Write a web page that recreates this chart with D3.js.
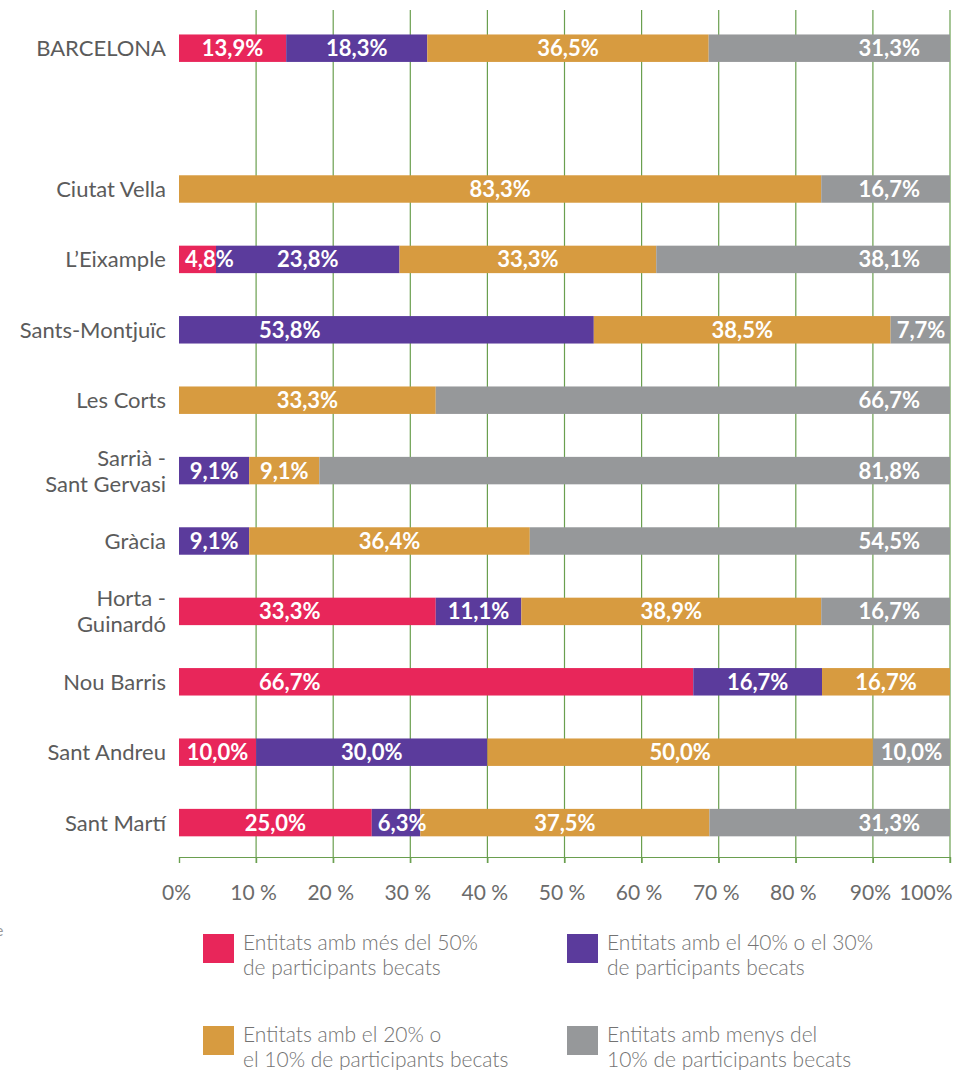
<!DOCTYPE html>
<html>
<head>
<meta charset="utf-8">
<script src="https://cdn.jsdelivr.net/npm/d3@7"></script>
<style>
  body { margin: 0; background: #fff; }
  svg { display: block; font-family: Lato, "Open Sans", sans-serif; }
</style>
</head>
<body>
<svg id="chart" width="957" height="1070"></svg>
<script>
// districtes (BARCELONA primer, després un buit)
const categories = ["BARCELONA", "Ciutat Vella", "L’Eixample", "Sants-Montjuïc", "Les Corts",
  "Sarrià -\nSant Gervasi", "Gràcia", "Horta -\nGuinardó", "Nou Barris", "Sant Andreu", "Sant Martí"];

// % d'entitats segons participants becats
const mes50     = [13.9, 0, 4.8, 0, 0, 0, 0, 33.3, 66.7, 10.0, 25.0];
const el40o30   = [18.3, 0, 23.8, 53.8, 0, 9.1, 9.1, 11.1, 16.7, 30.0, 6.3];
const el20o10   = [36.5, 83.3, 33.3, 38.5, 33.3, 9.1, 36.4, 38.9, 16.7, 50.0, 37.5];
const menys10   = [31.3, 16.7, 38.1, 7.7, 66.7, 81.8, 54.5, 16.7, 0, 10.0, 31.3];

const xTicks = [0, 10, 20, 30, 40, 50, 60, 70, 80, 90, 100];
const xTickLabels = ["0%", "10 %", "20 %", "30 %", "40 %", "50 %", "60 %", "70 %", "80 %", "90%", "100%"];

const seriesKeys = ["mes50", "el40o30", "el20o10", "menys10"];
const legendLabels = [
  ["Entitats amb més del 50%", "de participants becats"],
  ["Entitats amb el 40% o el 30%", "de participants becats"],
  ["Entitats amb el 20% o", "el 10% de participants becats"],
  ["Entitats amb menys del", "10% de participants becats"]
];
const colors = ["#e8265a", "#5b3b9c", "#d79b40", "#96989a"];

const svg = d3.select("#chart");

// taula per a d3.stack
const table = categories.map((c, i) => ({
  cat: c, mes50: mes50[i], el40o30: el40o30[i], el20o10: el20o10[i], menys10: menys10[i]
}));

const rows = [categories[0], "__gap__", ...categories.slice(1)];

const x = d3.scaleLinear().domain([0, 100]).range([179, 950]).clamp(true);
const y = d3.scaleBand().domain(rows).range([13, 857.8]).paddingInner(0.61).paddingOuter(0.305);

// graella verda
const gridTop = 10, axisY = 857;
svg.append("g").selectAll("line")
  .data(xTicks.slice(1))
  .join("line")
  .attr("x1", d => x(d)).attr("x2", d => x(d))
  .attr("y1", gridTop).attr("y2", axisY + 6)
  .attr("stroke", "#6a9f4f").attr("stroke-width", 1.2);

// eix x
const xAxis = svg.append("g").attr("transform", `translate(0,${axisY})`)
  .call(d3.axisBottom(x).tickValues(xTicks).tickSize(6).tickFormat((d, i) => xTickLabels[i]));
xAxis.select(".domain").attr("stroke", "#6a9f4f").attr("stroke-width", 1.2);
xAxis.selectAll(".tick line").attr("stroke", "#6a9f4f").attr("stroke-width", 1.2);
xAxis.selectAll(".tick text")
  .attr("y", 28)
  .attr("fill", "#6b6b6b")
  .style("font-size", "21px")
  .style("font-family", "Lato, sans-serif")
  .attr("text-anchor", (d, i) => i === xTicks.length - 1 ? "end" : "middle")
  .attr("dx", (d, i) => i === xTicks.length - 1 ? 2 : -3);

// barres apilades
const stacked = d3.stack().keys(seriesKeys)(table);

const layers = svg.append("g").selectAll("g")
  .data(stacked)
  .join("g")
  .attr("fill", (d, i) => colors[i]);

layers.selectAll("rect")
  .data(d => d)
  .join("rect")
  .attr("x", d => x(d[0]))
  .attr("y", d => y(d.data.cat))
  .attr("width", d => Math.max(0, x(d[1]) - x(d[0])))
  .attr("height", y.bandwidth());

// etiquetes dins les barres
const labelG = svg.append("g")
  .style("font-size", "22px")
  .style("font-weight", "bold")
  .attr("fill", "#fff");

stacked.forEach((layer, si) => {
  layer.forEach(d => {
    const v = d[1] - d[0];
    if (v <= 0) return;
    const x0 = x(d[0]), x1 = x(d[1]), w = x1 - x0;
    const t = labelG.append("text")
      .attr("y", y(d.data.cat) + y.bandwidth() / 2)
      .attr("dy", "0.36em")
      .text(d3.format(".1f")(v).replace(".", ",") + "%");
    const tw = t.node().getComputedTextLength();
    let cx = (x0 + x1) / 2;
    if (si === seriesKeys.length - 1 && w > tw + 60) {
      cx = x1 - 30 - tw / 2;
    } else if (si === seriesKeys.length - 1) {
      cx = x1 - Math.max(6, (w - tw) / 2) - tw / 2;
    } else if (si < 2 && d[0] === 0 && w > 200) {
      cx = x0 + 80 + tw / 2;
    }
    cx = Math.max(cx, x0 + 6 + tw / 2);
    t.attr("x", cx).attr("text-anchor", "middle");
  });
});

// noms dels districtes
const nameG = svg.append("g")
  .attr("fill", "#5b5b5b")
  .style("font-size", "22px")
  .attr("text-anchor", "end");

categories.forEach(c => {
  const lines = c.split("\n");
  const cy = y(c) + y.bandwidth() / 2;
  const t = nameG.append("text").attr("x", 166);
  lines.forEach((ln, k) => {
    t.append("tspan")
      .attr("x", 166)
      .attr("y", cy + (k - (lines.length - 1) / 2) * 26)
      .attr("dy", "0.36em")
      .text(ln);
  });
});

// llegenda
const legPos = [[203, 934], [567, 934], [203, 1026], [567, 1026]];
const leg = svg.append("g").selectAll("g")
  .data(legendLabels)
  .join("g")
  .attr("transform", (d, i) => `translate(${legPos[i][0]},${legPos[i][1]})`);

leg.append("rect")
  .attr("width", 31).attr("height", 29)
  .attr("fill", (d, i) => colors[i]);

leg.append("text")
  .attr("fill", "#737373")
  .style("font-size", "21px")
  .style("font-weight", 300)
  .selectAll("tspan")
  .data(d => d)
  .join("tspan")
  .attr("x", 40)
  .attr("y", (d, k) => 8 + k * 25)
  .attr("dy", "0.36em")
  .text(d => d);

// resta de text retallat al marge esquerre
svg.append("text").attr("x", -5).attr("y", 936)
  .attr("fill", "#999").style("font-size", "16px").text("e");
</script>
</body>
</html>
